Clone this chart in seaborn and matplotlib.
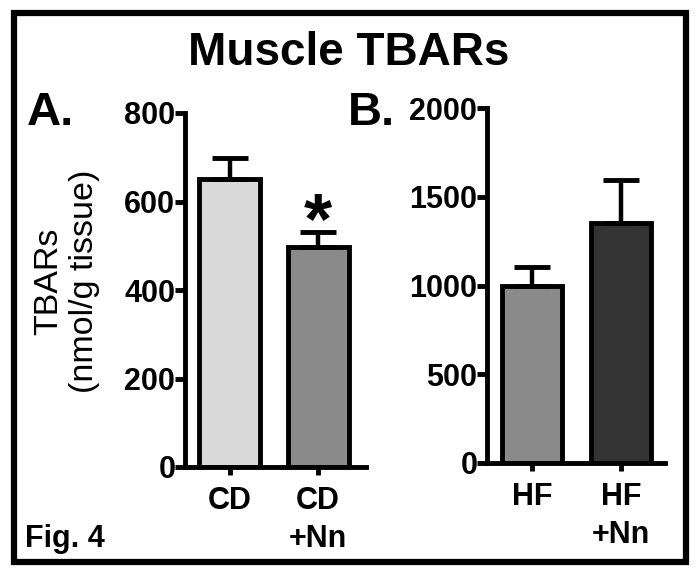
import numpy as np
import matplotlib
matplotlib.use("Agg")
import matplotlib.pyplot as plt
import seaborn as sns
import pandas as pd
from matplotlib.patches import Rectangle

# ---- data ----
cats_a = ["CD", "CD\n+Nn"]
vals_a = [650, 497]
errs_a = [48, 35]
cols_a = ["#dadada", "#8a8a8a"]
yticks_a = [0, 200, 400, 600, 800]

cats_b = ["HF", "HF\n+Nn"]
vals_b = [995, 1350]
errs_b = [110, 242]
cols_b = ["#8a8a8a", "#333333"]
yticks_b = [0, 500, 1000, 1500, 2000]

sns.set_style("white")
plt.rcParams["font.family"] = ["Liberation Sans", "DejaVu Sans"]
for k in ["text.color", "axes.labelcolor", "xtick.color", "ytick.color",
          "axes.edgecolor"]:
    plt.rcParams[k] = "black"

W, H = 700, 578
fig = plt.figure(figsize=(7, 5.78), dpi=100)
fig.patch.set_facecolor("white")


def fx(px):
    return px / W


def fy(py):
    return 1 - py / H


def panel(rect, cats, vals, errs, cols, yticks, ylim, xlim, bw):
    ax = fig.add_axes(rect)
    df = pd.DataFrame({"cat": cats, "val": vals})
    sns.barplot(data=df, x="cat", y="val", hue="cat", palette=cols,
                legend=False, width=bw, edgecolor="black", linewidth=3.5,
                ax=ax, order=cats, hue_order=cats, errorbar=None)
    xs = np.arange(len(cats))
    ax.errorbar(xs, vals, yerr=[np.zeros(len(errs)), errs], fmt="none",
                ecolor="black", elinewidth=3.2, capsize=13, capthick=3.5,
                zorder=1)
    ax.set_ylim(*ylim)
    ax.set_xlim(*xlim)
    ax.set_yticks(yticks)
    ax.set_yticklabels([str(t) for t in yticks], fontsize=22,
                       fontweight="bold", color="black")
    ax.set_xticks(xs)
    ax.set_xticklabels(cats, fontsize=22, fontweight="bold", linespacing=1.35,
                       color="black")
    ax.set_xlabel("")
    ax.set_ylabel("")
    for s in ["top", "right"]:
        ax.spines[s].set_visible(False)
    for s in ["left", "bottom"]:
        ax.spines[s].set_linewidth(3.5)
        ax.spines[s].set_color("black")
    ax.tick_params(axis="y", direction="out", length=7, width=3.5, pad=0,
                   left=True, colors="black")
    ax.tick_params(axis="x", direction="out", length=6, width=3.5, pad=8,
                   bottom=True, colors="black")
    ax.set_facecolor("none")
    return ax


ax_a = panel([fx(185), fy(467), fx(366) - fx(185), fy(113) - fy(467)],
             cats_a, vals_a, errs_a, cols_a, yticks_a, (0, 800),
             (-0.503, 1.54), 0.69)
ax_b = panel([fx(487), fy(463), fx(665) - fx(487), fy(108) - fy(463)],
             cats_b, vals_b, errs_b, cols_b, yticks_b, (0, 2000),
             (-0.506, 1.49), 0.67)

# asterisk (significance mark above CD+Nn)
ax_a.annotate("*", xy=(1, vals_a[1] + errs_a[1]), xytext=(0, -8.5),
              textcoords="offset points", ha="center", va="baseline",
              fontsize=52, fontweight="bold", color="black")

# texts
fig.text(fx(349), fy(65), "Muscle TBARs", ha="center", va="baseline",
         fontsize=33, fontweight="bold", color="black")
fig.text(fx(27), fy(125), "A.", ha="left", va="baseline", fontsize=34,
         fontweight="bold", color="black")
fig.text(fx(348), fy(125), "B.", ha="left", va="baseline", fontsize=34,
         fontweight="bold", color="black")
fig.text(fx(25), fy(547), "Fig. 4", ha="left", va="baseline", fontsize=22,
         fontweight="bold", color="black")
fig.text(fx(67), fy(281), "TBARs\n(nmol/g tissue)", ha="center", va="center",
         rotation=90, fontsize=24.5, multialignment="center", linespacing=1.2,
         color="black")

# border
fig.patches.append(Rectangle((fx(14), fy(562)), fx(686) - fx(14),
                             fy(13) - fy(562), transform=fig.transFigure,
                             fill=False, edgecolor="black", linewidth=4.5))

fig.savefig("out.png", dpi=100, facecolor="white")
